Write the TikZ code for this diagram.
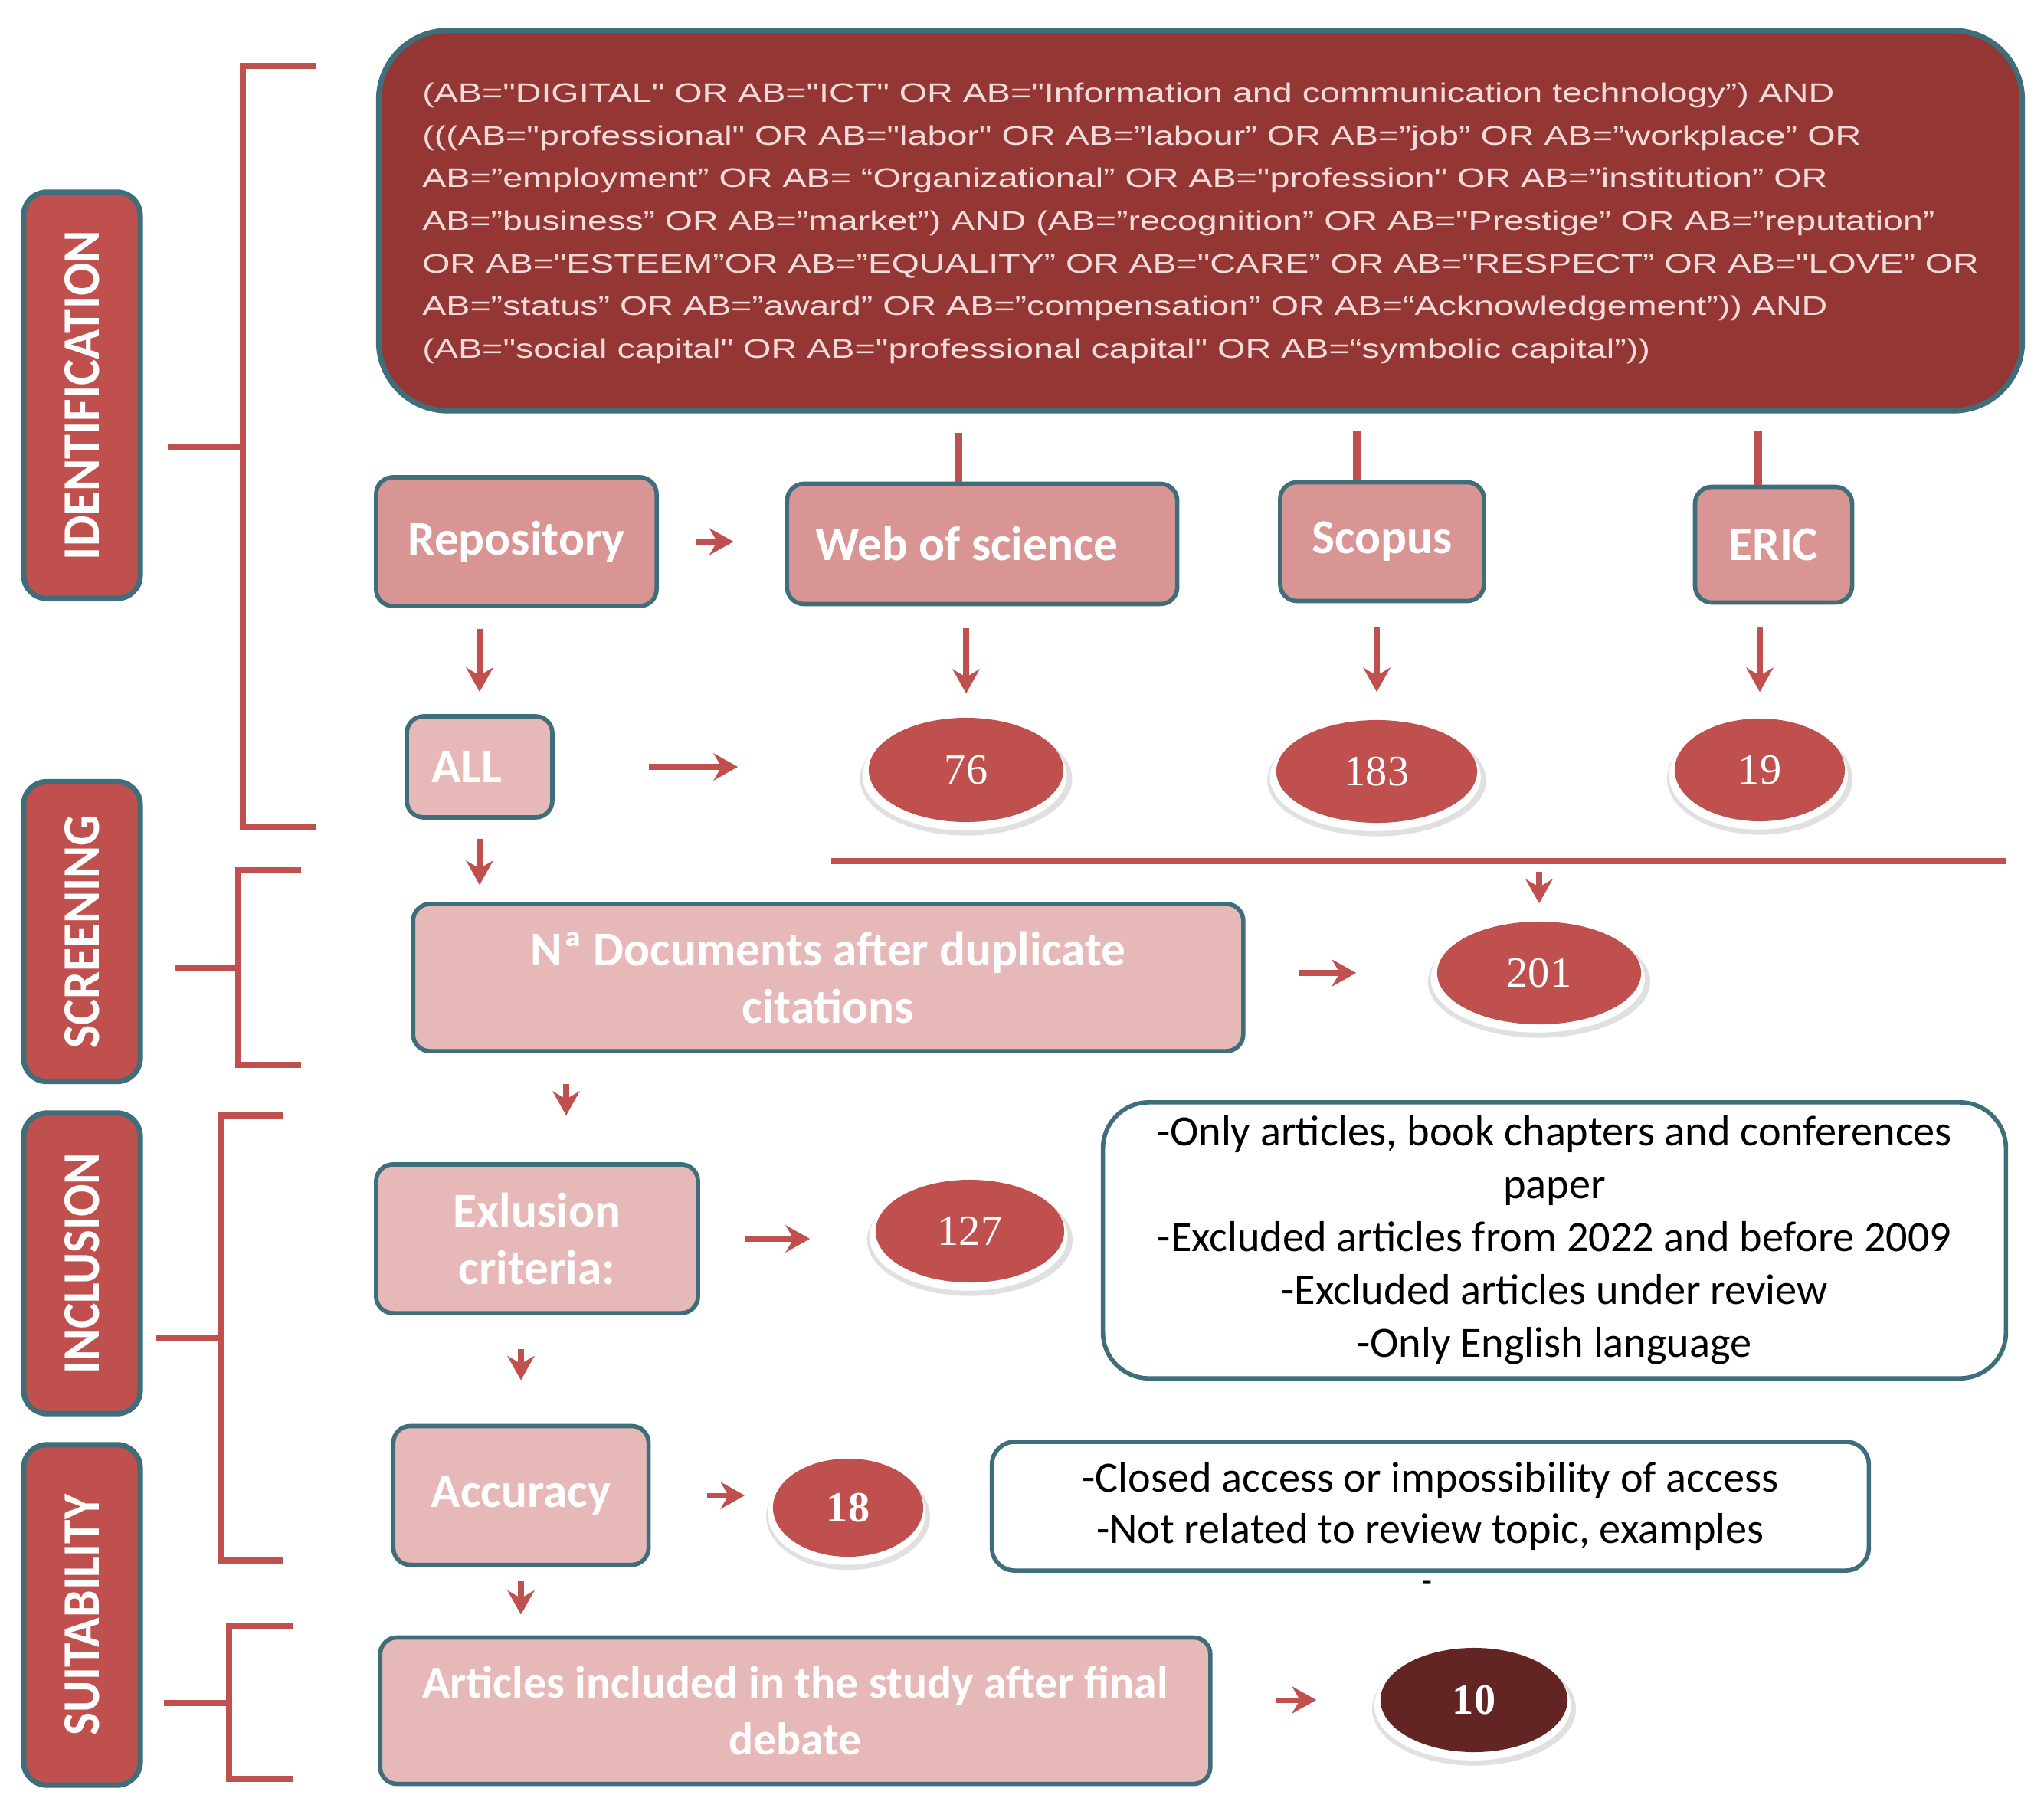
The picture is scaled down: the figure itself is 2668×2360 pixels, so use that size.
\documentclass[tikz,border=0pt]{standalone}
\usepackage{graphicx}
\usepackage{fontspec}
\setmainfont{Carlito}
\newfontfamily\qfont{Liberation Sans}
\newfontfamily\numfont{Liberation Serif}
\usetikzlibrary{arrows.meta,shapes.geometric,shadows,calc}
\definecolor{redA}{HTML}{C0504D}
\definecolor{darkQ}{HTML}{943634}
\definecolor{pinkMid}{HTML}{D99594}
\definecolor{pinkLight}{HTML}{E6B9B8}
\definecolor{tealB}{HTML}{3E6E7A}
\definecolor{qtext}{HTML}{F2DCDB}
\definecolor{darkE}{HTML}{632523}
\newcommand\qline[2]{\resizebox*{#1}{11.3pt}{\rule[-2.1pt]{0pt}{11.3pt}#2}}
\newcommand\stagetxt[2]{\resizebox{#1}{0.45cm}{#2}}
\tikzset{
  stagebox/.style={draw=tealB, line width=2pt, fill=redA, rounded corners=0.3cm,
    rotate=90, inner sep=0pt, text=white, font=\bfseries, minimum height=1.52cm},
  qbox/.style={draw=tealB, line width=2pt, fill=darkQ, rounded corners=0.9cm,
    inner sep=0pt, text=qtext, align=left, font=\qfont\fontsize{10}{15.79}\selectfont},
  srcbox/.style={draw=tealB, line width=1.6pt, fill=pinkMid, rounded corners=0.22cm,
    inner sep=0pt, text=white, align=center, font=\fontsize{18}{21.5}\selectfont\bfseries},
  stepbox/.style={srcbox, fill=pinkLight},
  numell/.style={ellipse, fill=redA, inner sep=0pt, text=white,
    font=\numfont\fontsize{16}{18}\selectfont,
    drop shadow={shadow xshift=0pt, shadow yshift=-3pt, shadow scale=1.09, fill=black, opacity=0.12},
    drop shadow={shadow xshift=-0.5pt, shadow yshift=-2pt, shadow scale=1.05, fill=white, opacity=1}},
  notebox/.style={draw=tealB, line width=1.6pt, fill=white, inner sep=0pt, align=center,
    text=black, font=\fontsize{16}{19.6}\selectfont},
  bracket/.style={draw=redA, line width=2.5pt},
  link/.style={draw=redA, line width=2.6pt},
  arr/.style={draw=redA, line width=2pt, -{Stealth[length=9pt,width=10pt]}},
}
\begin{document}
\begin{tikzpicture}[x=0.01cm,y=-0.01cm]
\useasboundingbox (0,0) rectangle (2668,2360);

% stage labels
\node[stagebox, minimum width=5.30cm] (lab1) at (107,516) {\stagetxt{4.30cm}{IDENTIFICATION}};
\node[stagebox, minimum width=3.91cm] (lab2) at (107,1216) {\stagetxt{3.05cm}{SCREENING}};
\node[stagebox, minimum width=3.92cm] (lab3) at (107,1649) {\stagetxt{2.88cm}{INCLUSION}};
\node[stagebox, minimum width=4.44cm] (lab4) at (107,2108) {\stagetxt{3.14cm}{SUITABILITY}};

% brackets
\draw[bracket] (412,86) -- (317,86) -- (317,1080) -- (412,1080);
\draw[bracket] (219,584) -- (317,584);
\draw[bracket] (393,1136) -- (311,1136) -- (311,1390) -- (393,1390);
\draw[bracket] (228,1264) -- (311,1264);
\draw[bracket] (370,1456) -- (288,1456) -- (288,2037) -- (370,2037);
\draw[bracket] (204,1746) -- (288,1746);
\draw[bracket] (382,2122) -- (299,2122) -- (299,2322) -- (382,2322);
\draw[bracket] (214,2223) -- (299,2223);

% query box
\node[qbox, minimum width=21.44cm, minimum height=4.96cm] (query) at (1567,288) {%
\qline{18.42cm}{(AB="DIGITAL"  OR AB="ICT"  OR AB="Information  and communication  technology”) AND}\\
\qline{18.77cm}{(((AB="professional"  OR AB="labor"  OR AB=”labour”  OR AB=”job”  OR AB=”workplace”  OR}\\
\qline{18.33cm}{AB=”employment”  OR AB= “Organizational”  OR AB="profession"  OR AB=”institution”  OR}\\
\qline{19.73cm}{AB=”business”  OR AB=”market”) AND (AB=”recognition”  OR AB="Prestige”  OR AB=”reputation”}\\
\qline{20.30cm}{OR AB="ESTEEM”OR  AB=”EQUALITY”  OR AB="CARE”  OR AB="RESPECT”  OR AB="LOVE”  OR}\\
\qline{18.33cm}{AB=”status”  OR AB=”award”  OR AB=”compensation”  OR AB=“Acknowledgement”)) AND}\\
\qline{16.02cm}{(AB="social capital"  OR AB="professional  capital"  OR AB=“symbolic  capital”))}};

% source boxes
\node[srcbox, minimum width=3.66cm, minimum height=1.68cm] (repo) at (674,707) {Repository};
\node[srcbox, minimum width=5.09cm, minimum height=1.57cm] (wos) at (1282,710) {Web of science\hspace*{0.4cm}};
\node[srcbox, minimum width=2.66cm, minimum height=1.55cm] (scopus) at (1804,707) {Scopus};
\node[srcbox, minimum width=2.05cm, minimum height=1.51cm] (eric) at (2315,711) {ERIC};

\coordinate (qw) at (1251,565);
\coordinate (qs) at (1771,563);
\coordinate (qe) at (2295,563);
\draw[link] (qw) -- (qw |- wos.north);
\draw[link] (qs) -- (qs |- scopus.north);
\draw[link] (qe) -- (qe |- eric.north);

\node[stepbox, minimum width=1.90cm, minimum height=1.32cm] (all) at (626,1001) {ALL\hspace*{0.34cm}};

\node[numell, minimum width=2.54cm, minimum height=1.36cm] (e76) at (1261,1005) {76};
\node[numell, minimum width=2.62cm, minimum height=1.34cm] (e183) at (1797,1007) {183};
\node[numell, minimum width=2.22cm, minimum height=1.34cm] (e19) at (2297,1005) {19};

\draw[arr, shorten <=0.49cm, shorten >=0.67cm] (repo.east) -- (repo.east -| wos.west);
\draw[arr, shorten <=0.27cm, shorten >=0.29cm] (repo.south -| all.north) -- (all.north);
\draw[arr, shorten <=0.29cm, shorten >=0.31cm] (wos.south -| e76.north) -- (e76.north);
\draw[arr, shorten <=0.31cm, shorten >=0.36cm] (scopus.south -| e183.north) -- (e183.north);
\draw[arr, shorten <=0.29cm, shorten >=0.34cm] (eric.south -| e19.north) -- (e19.north);
\draw[arr, shorten <=1.23cm, shorten >=1.70cm] (all.east) -- (all.east -| e76.west);

% merge line
\coordinate (hl1) at (1085,1124);
\coordinate (hl2) at (2618,1124);
\draw[link, line width=2.2pt] (hl1) -- (hl2);

\node[stepbox, minimum width=10.83cm, minimum height=1.92cm] (nodoc) at (1081,1276) {Nª Documents after duplicate\\citations};
\node[numell, minimum width=2.66cm, minimum height=1.34cm] (e201) at (2009,1270) {201};

\draw[arr, shorten <=0.14cm, shorten >=0.23cm] (hl1 -| e201.north) -- (e201.north);
\draw[arr, shorten <=0.25cm, shorten >=0.22cm] (all.south) -- (all.south |- nodoc.north);
\draw[arr, shorten <=0.70cm, shorten >=1.05cm] (e201.west -| nodoc.east) -- (e201.west);

% inclusion
\node[stepbox, minimum width=4.20cm, minimum height=1.94cm] (excl) at (701,1617) {Exlusion\\criteria:};
\node[numell, minimum width=2.46cm, minimum height=1.34cm] (e127) at (1266,1607) {127};
\node[notebox, rounded corners=0.6cm, minimum width=11.78cm, minimum height=3.60cm] (crit) at (2029,1619)
  {-Only articles, book chapters and conferences\\paper\\-Excluded articles from 2022 and before  2009\\-Excluded articles under review\\-Only English language};

\draw[arr, shorten <=0.40cm, shorten >=0.61cm] ($(nodoc.south -| excl.north)+(38,0)$) -- ($(excl.north)+(38,0)$);
\draw[arr, shorten <=0.58cm, shorten >=0.85cm] (excl.east) -- (excl.east -| e127.west);

\node[stepbox, minimum width=3.33cm, minimum height=1.81cm] (acc) at (680,1952) {Accuracy};
\node[numell, minimum width=1.96cm, minimum height=1.28cm, font=\numfont\fontsize{16}{18}\selectfont\bfseries] (e18) at (1107,1968) {18};
\node[notebox, rounded corners=0.3cm, minimum width=11.44cm, minimum height=1.68cm, font=\fontsize{16}{18.8}\selectfont] (closed) at (1867,1966)
  {-Closed access or impossibility of access\\-Not related to review topic, examples};
\node[font=\fontsize{12}{14}\selectfont, inner sep=0pt] (dash) at (1863,2071) {-};

\draw[arr, shorten <=0.44cm, shorten >=0.57cm] (excl.south -| acc.north) -- (acc.north);
\draw[arr, shorten <=0.74cm, shorten >=0.36cm] (acc.east) -- (acc.east -| e18.west);

% suitability
\node[stepbox, minimum width=10.83cm, minimum height=1.91cm, font=\fontsize{17}{21}\selectfont\bfseries] (art) at (1038,2233) {Articles included in the study after final\\debate};
\node[numell, fill=darkE, minimum width=2.44cm, minimum height=1.36cm, font=\numfont\fontsize{16}{18}\selectfont\bfseries] (e10) at (1924,2219) {10};

\draw[arr, shorten <=0.19cm, shorten >=0.27cm] (acc.south) -- (acc.south |- art.north);
\draw[arr, shorten <=0.83cm, shorten >=0.83cm] (e10.west -| art.east) -- (e10.west);
\end{tikzpicture}
\end{document}
